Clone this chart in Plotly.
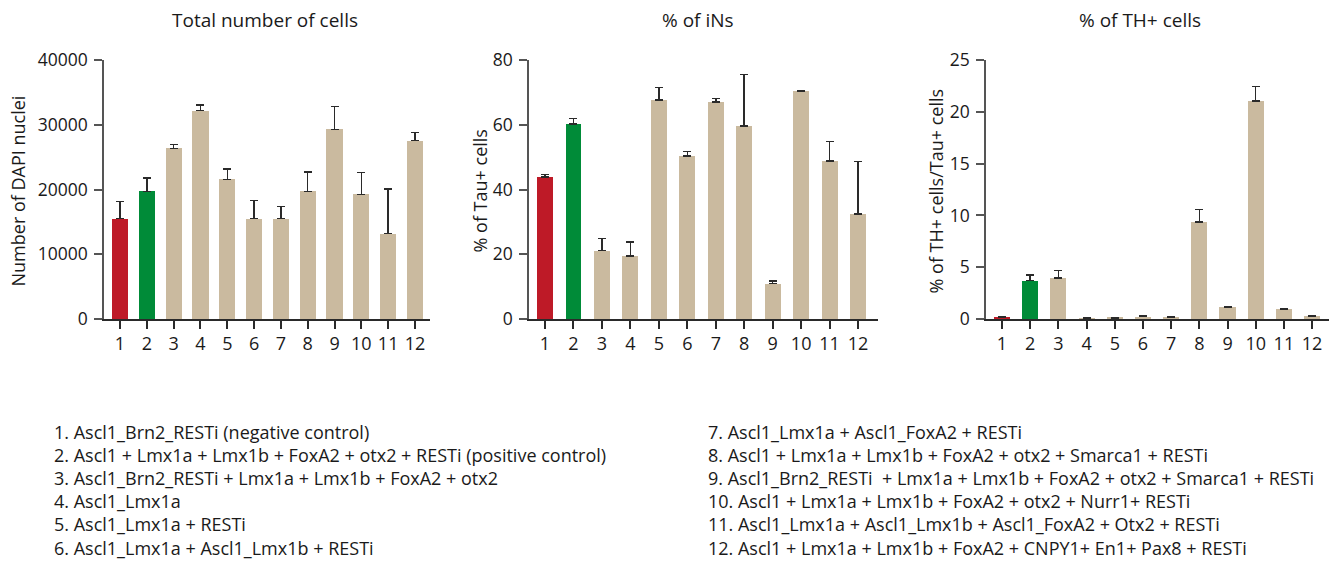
import plotly.graph_objects as go

W, H = 1338, 562
FONT = "Open Sans"

groups = [str(i) for i in range(1, 13)]
xpos = list(range(1, 13))

dapi_mean = [15500, 19700, 26350, 32200, 21550, 15500, 15500, 19700, 29300, 19250, 13200, 27550]
dapi_sem = [2640, 2060, 620, 820, 1650, 2830, 1850, 2990, 3500, 3350, 6900, 1280]

ins_mean = [43.9, 60.3, 21.1, 19.5, 67.7, 50.4, 67.0, 59.6, 10.9, 70.4, 48.8, 32.5]
ins_sem = [0.7, 1.7, 3.7, 4.3, 3.8, 1.4, 1.1, 16.0, 0.8, 0.2, 6.1, 16.1]

th_mean = [0.13, 3.7, 3.98, 0.06, 0.10, 0.22, 0.13, 9.38, 1.12, 21.05, 0.93, 0.26]
th_sem = [0.06, 0.57, 0.68, 0.04, 0.03, 0.10, 0.06, 1.19, 0.07, 1.41, 0.03, 0.03]

titles = ["Total number of cells", "% of iNs", "% of TH+ cells"]
ytitles = ["Number of DAPI nuclei", "% of Tau+ cells", "% of TH+ cells/Tau+ cells"]

legend_left = [
    "1. Ascl1_Brn2_RESTi (negative control)",
    "2. Ascl1 + Lmx1a + Lmx1b + FoxA2 + otx2 + RESTi (positive control)",
    "3. Ascl1_Brn2_RESTi + Lmx1a + Lmx1b + FoxA2 + otx2",
    "4. Ascl1_Lmx1a",
    "5. Ascl1_Lmx1a + RESTi",
    "6. Ascl1_Lmx1a + Ascl1_Lmx1b + RESTi",
]
legend_right = [
    "7. Ascl1_Lmx1a + Ascl1_FoxA2 + RESTi",
    "8. Ascl1 + Lmx1a + Lmx1b + FoxA2 + otx2 + Smarca1 + RESTi",
    "9. Ascl1_Brn2_RESTi  + Lmx1a + Lmx1b + FoxA2 + otx2 + Smarca1 + RESTi",
    "10. Ascl1 + Lmx1a + Lmx1b + FoxA2 + otx2 + Nurr1+ RESTi",
    "11. Ascl1_Lmx1a + Ascl1_Lmx1b + Ascl1_FoxA2 + Otx2 + RESTi",
    "12. Ascl1 + Lmx1a + Lmx1b + FoxA2 + CNPY1+ En1+ Pax8 + RESTi",
]

RED, GREEN, TAN = "#BE1A27", "#008B38", "#CABA9F"
colors = [RED, GREEN] + [TAN] * 10


def px_x(p):
    return p / W


def px_y(p):
    return 1 - p / H


panels = [
    dict(mean=dapi_mean, sem=dapi_sem, x0=104, x1=430, xr=[0.403, 12.56], yr=[0, 40000], dt=10000, bw=0.6,
         tcx=265, ytx=17),
    dict(mean=ins_mean, sem=ins_sem, x0=529, x1=878, xr=[0.4376, 12.70], yr=[0, 80], dt=20, bw=0.56,
         tcx=698, ytx=479),
    dict(mean=th_mean, sem=th_sem, x0=986, x1=1329, xr=[0.432, 12.60], yr=[0, 25], dt=5, bw=0.57,
         tcx=1140, ytx=935),
]

TOP, BOT = 60, 319

fig = go.Figure()
annotations = []
for i, p in enumerate(panels):
    n = "" if i == 0 else str(i + 1)
    fig.add_trace(go.Bar(
        x=xpos, y=p["mean"], width=p["bw"], marker=dict(color=colors, line=dict(width=0)),
        error_y=dict(type="data", symmetric=False, array=p["sem"], arrayminus=[0] * 12,
                     color="#2a2a2a", thickness=1.5, width=4),
        xaxis="x" + n, yaxis="y" + n, showlegend=False,
    ))
    fig.layout["xaxis" + n] = dict(
        domain=[px_x(p["x0"]), px_x(p["x1"])], range=p["xr"], anchor="y" + n, automargin=False,
        tickmode="array", tickvals=xpos, ticktext=groups, ticks="outside", ticklen=8,
        tickcolor="#2a2a2a", tickwidth=1.5, showline=True, linecolor="#2a2a2a", linewidth=1.5,
        showgrid=False, zeroline=False, tickfont=dict(family=FONT, size=18, color="#1a1a1a"),
        fixedrange=True,
    )
    fig.layout["yaxis" + n] = dict(
        domain=[px_y(BOT), px_y(TOP)], range=p["yr"], anchor="x" + n, dtick=p["dt"], tick0=0,
        tickformat="d", automargin=False, ticklabelstandoff=3,
        ticks="outside", ticklen=8, tickcolor="#555", tickwidth=1.5, showline=True,
        linecolor="#555", linewidth=1.5, showgrid=False, zeroline=False,
        tickfont=dict(family=FONT, size=17.5, color="#1a1a1a"), fixedrange=True,
    )
    annotations.append(dict(text=titles[i], x=px_x(p["tcx"]), y=px_y(20), xref="paper", yref="paper",
                            xanchor="center", yanchor="middle", showarrow=False,
                            font=dict(family=FONT, size=19, color="#1a1a1a")))
    annotations.append(dict(text=ytitles[i], x=px_x(p["ytx"]), y=px_y((TOP + BOT) / 2 + 2),
                            xref="paper", yref="paper", xanchor="center", yanchor="middle",
                            textangle=-90, showarrow=False,
                            font=dict(family=FONT, size=18, color="#1a1a1a")))

line_y = [432, 455, 478, 501, 524, 548]
for j, t in enumerate(legend_left):
    annotations.append(dict(text=t, x=px_x(52), y=px_y(line_y[j]), xref="paper", yref="paper",
                            xanchor="left", yanchor="middle", showarrow=False,
                            font=dict(family=FONT, size=18, color="#1a1a1a")))
for j, t in enumerate(legend_right):
    annotations.append(dict(text=t, x=px_x(706), y=px_y(line_y[j]), xref="paper", yref="paper",
                            xanchor="left", yanchor="middle", showarrow=False,
                            font=dict(family=FONT, size=18, color="#1a1a1a")))

fig.update_layout(
    width=W, height=H, margin=dict(l=0, r=0, t=0, b=0, autoexpand=False),
    paper_bgcolor="white", plot_bgcolor="white", annotations=annotations,
    font=dict(family=FONT), bargap=0,
)

fig.write_html("out.html", config={"displayModeBar": False})
